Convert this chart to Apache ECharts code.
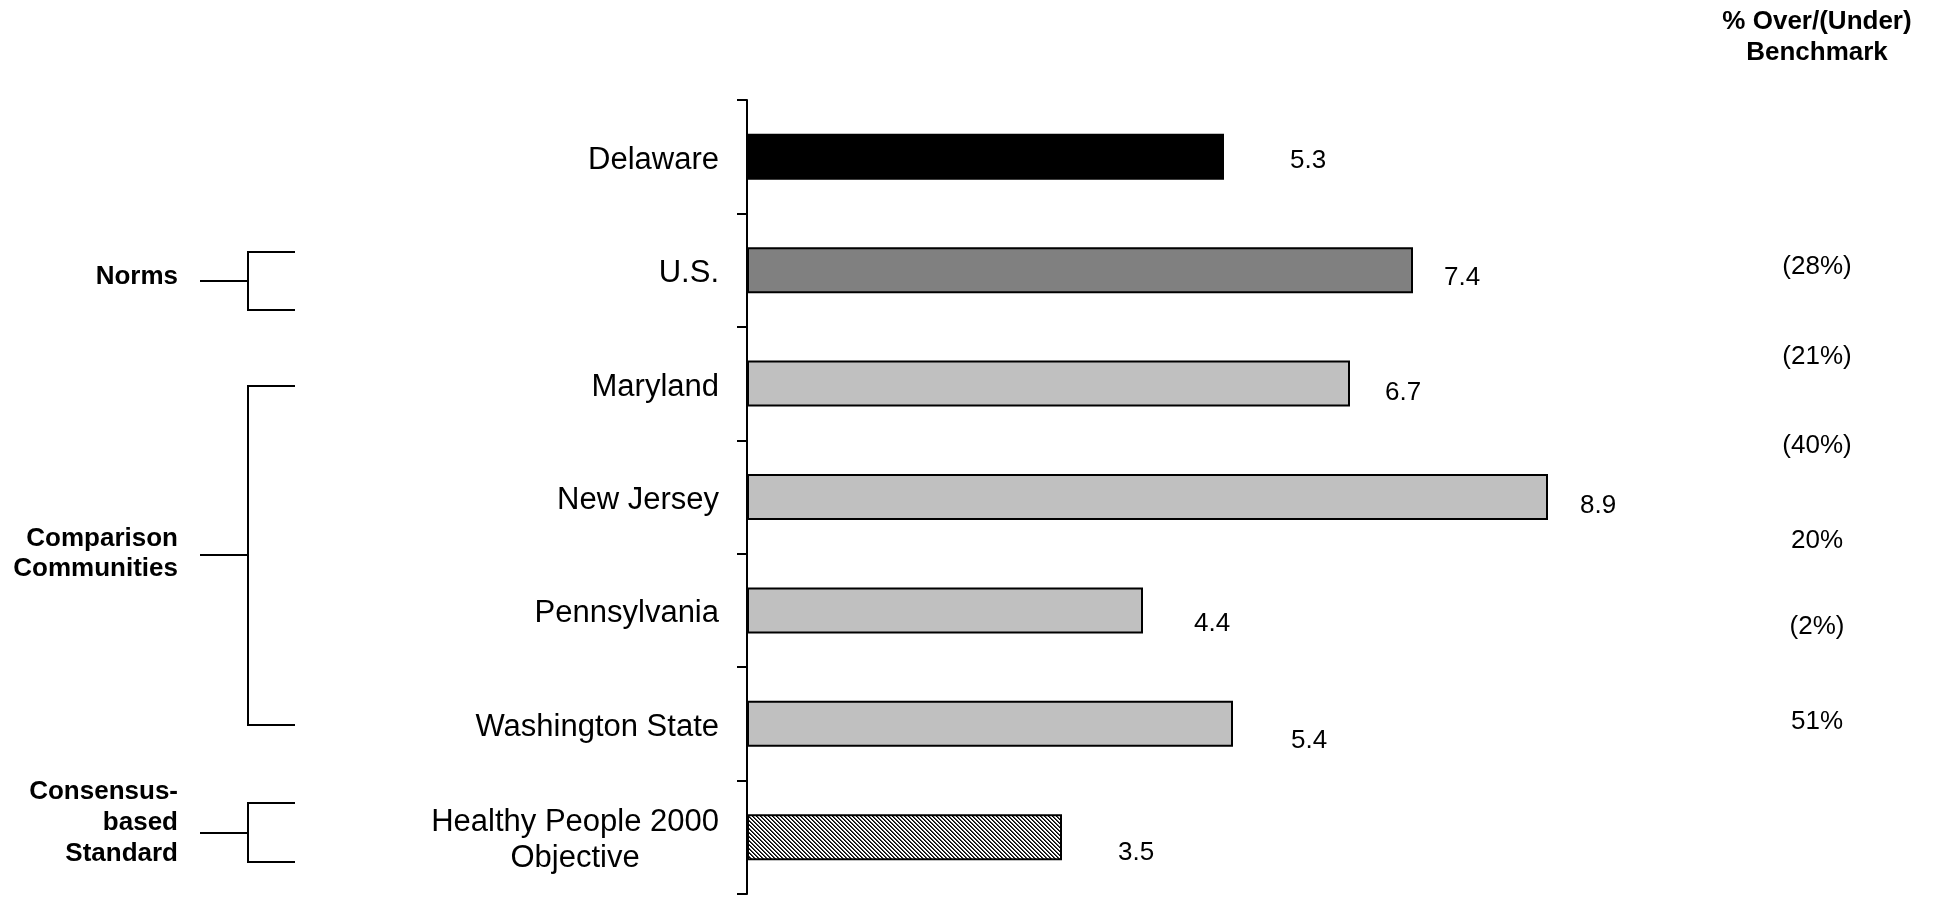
<!DOCTYPE html>
<html>
<head>
<meta charset="utf-8">
<script src="https://cdn.jsdelivr.net/npm/echarts@6/dist/echarts.min.js"></script>
<style>
html,body{margin:0;padding:0;background:#fff;}
#chart{width:1938px;height:898px;}
</style>
</head>
<body>
<div id="chart"></div>
<script>
// ---- data ----
const categories = ['Delaware', 'U.S.', 'Maryland', 'New Jersey', 'Pennsylvania', 'Washington State', 'Healthy People 2000\nObjective'];
const values = [5.3, 7.4, 6.7, 8.9, 4.4, 5.4, 3.5];
const benchmarkHeader = '% Over/(Under)\nBenchmark';
const benchmarkPct = ['(28%)', '(21%)', '(40%)', '20%', '(2%)', '51%'];
const groupNames = ['Norms', 'Comparison\nCommunities', 'Consensus-\nbased\nStandard'];

// ---- styling ----
const FONT = "'Liberation Sans', Arial, sans-serif";
const labelGap = [66, 31, 35, 32, 51, 58, 56];
const labelDrop = [4, 8, 9, 9, 13, 17, 16];
const pctY = [267, 357, 446, 541, 627, 722];
const pctX = 1817;

function hatchPattern() {
  const c = document.createElement('canvas');
  c.width = 4; c.height = 4;
  const ctx = c.getContext('2d');
  const img = ctx.createImageData(4, 4);
  for (let y = 0; y < 4; y++) {
    for (let x = 0; x < 4; x++) {
      const k = ((x - y) % 4 + 4) % 4;
      const v = k === 0 ? 0 : (k === 1 ? 70 : 255);
      const i = (y * 4 + x) * 4;
      img.data[i] = v; img.data[i + 1] = v; img.data[i + 2] = v; img.data[i + 3] = 255;
    }
  }
  ctx.putImageData(img, 0, 0);
  return { image: c, repeat: 'repeat' };
}
const barFills = ['#000000', '#808080', '#C0C0C0', '#C0C0C0', '#C0C0C0', '#C0C0C0', hatchPattern()];

const chart = echarts.init(document.getElementById('chart'), null, { renderer: 'canvas' });

const seriesData = values.map((v, i) => ({
  value: v,
  itemStyle: { color: barFills[i] },
  label: { distance: labelGap[i], offset: [0, labelDrop[i]] }
}));

const line = (x1, y1, x2, y2) => ({
  type: 'line', silent: true,
  shape: { x1, y1, x2, y2 },
  style: { stroke: '#000', lineWidth: 2 }
});
function bracket(yTop, yBot, yStub) {
  return [
    line(200, yStub, 248, yStub),
    line(248, yTop - 1, 248, yBot + 1),
    line(248, yTop, 295, yTop),
    line(248, yBot, 295, yBot)
  ];
}
const groupText = (text, y, lh) => ({
  type: 'text', silent: true, x: 178, y,
  style: { text, fill: '#000', font: 'bold 26px ' + FONT, align: 'right', verticalAlign: 'middle', lineHeight: lh }
});

const graphics = [
  ...bracket(252, 310, 281),
  ...bracket(386, 725, 555),
  ...bracket(803, 862, 833),
  groupText(groupNames[0], 277, 30),
  groupText(groupNames[1], 554, 30),
  groupText(groupNames[2], 823, 31),
  {
    type: 'text', silent: true, x: pctX, y: 37,
    style: { text: benchmarkHeader, fill: '#000', font: 'bold 26px ' + FONT, align: 'center', verticalAlign: 'middle', lineHeight: 31 }
  },
  ...benchmarkPct.map((t, i) => ({
    type: 'text', silent: true, x: pctX, y: pctY[i],
    style: { text: t, fill: '#000', font: '26px ' + FONT, align: 'center', verticalAlign: 'middle' }
  }))
];

chart.setOption({
  backgroundColor: '#ffffff',
  animation: false,
  grid: { left: 747, top: 100, width: 900, bottom: 4 },
  xAxis: { type: 'value', min: 0, max: 10, show: false },
  yAxis: {
    type: 'category',
    data: categories,
    inverse: true,
    axisLine: { show: true, lineStyle: { color: '#000', width: 2 } },
    axisTick: { show: true, length: 10, lineStyle: { color: '#000', width: 2 } },
    splitLine: { show: false },
    axisLabel: {
      margin: 28,
      color: '#000',
      fontFamily: FONT,
      fontSize: 31,
      padding: [7, 0, 0, 0],
      formatter: function (v) {
        if (v.indexOf('\n') >= 0) {
          return v.split('\n').map(s => '{c|' + s + '}').join('\n');
        }
        return v;
      },
      rich: {
        c: { align: 'center', fontFamily: FONT, fontSize: 31, lineHeight: 36, color: '#000' }
      }
    }
  },
  series: [{
    type: 'bar',
    data: seriesData,
    barWidth: 46,
    itemStyle: { borderColor: '#000', borderWidth: 2 },
    label: {
      show: true,
      position: 'right',
      color: '#000',
      fontFamily: FONT,
      fontSize: 26,
      formatter: p => p.value.toFixed(1)
    }
  }],
  graphic: graphics
});
</script>
</body>
</html>
